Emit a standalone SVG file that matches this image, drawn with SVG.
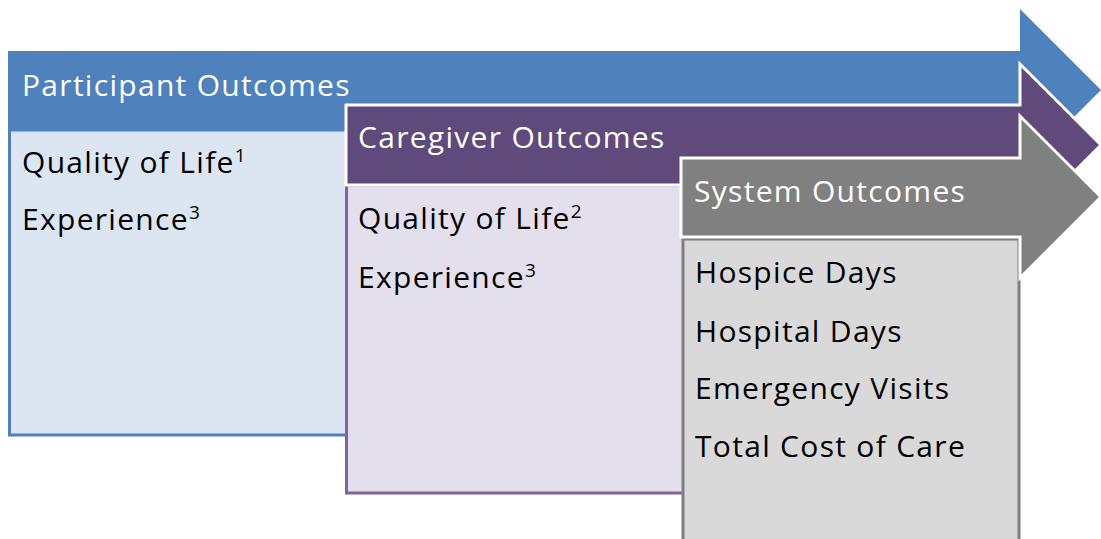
<svg xmlns="http://www.w3.org/2000/svg" width="1101" height="539" viewBox="0 0 1101 539">
<style>
.hdr{font-family:"Open Sans",Lato,sans-serif;font-size:30px;letter-spacing:1.3px;fill:#ffffff}
.txt{font-family:"Open Sans",Lato,sans-serif;font-size:30px;letter-spacing:1.3px;fill:#000000}
.sup{font-size:19px;letter-spacing:0}
.arrow{stroke:#ffffff;stroke-width:3;stroke-linejoin:miter}
</style>
<rect width="1101" height="539" fill="#ffffff"/>
<g id="participant">
<rect x="9.5" y="130" width="340" height="305" fill="#DCE6F2" stroke="#4F81BD" stroke-width="3"/>
<path d="M8,51 H1020 V9 L1101,90 L1020,171 V130 H8 Z" fill="#4F81BD"/>
<text class="hdr" x="22" y="96">Participant Outcomes</text>
<text class="txt" x="22" y="173">Quality of Life<tspan class="sup" dy="-11">1</tspan></text>
<text class="txt" x="22" y="230">Experience<tspan class="sup" dy="-11">3</tspan></text>
</g>
<g id="caregiver">
<rect x="346.5" y="185" width="340" height="308" fill="#E4DFEC" stroke="#8064A2" stroke-width="3"/>
<path class="arrow" d="M346,105 H1020 V64 L1101,145 L1020,226 V185 H346 Z" fill="#604A7B"/>
<text class="hdr" x="358" y="148">Caregiver Outcomes</text>
<text class="txt" x="358" y="229">Quality of Life<tspan class="sup" dy="-11">2</tspan></text>
<text class="txt" x="358" y="288">Experience<tspan class="sup" dy="-11">3</tspan></text>
</g>
<g id="system">
<rect x="683" y="239" width="336" height="310" fill="#D9D9D9" stroke="#7F7F7F" stroke-width="3"/>
<path class="arrow" d="M681,158 H1020 V116 L1101,197 L1020,278 V237 H681 Z" fill="#808080"/>
<text class="hdr" x="694" y="202">System Outcomes</text>
<text class="txt" x="695" y="283">Hospice Days</text>
<text class="txt" x="695" y="342">Hospital Days</text>
<text class="txt" x="695" y="399">Emergency Visits</text>
<text class="txt" x="695" y="457">Total Cost of Care</text>
</g>
<g id="connectors"/>
</svg>
